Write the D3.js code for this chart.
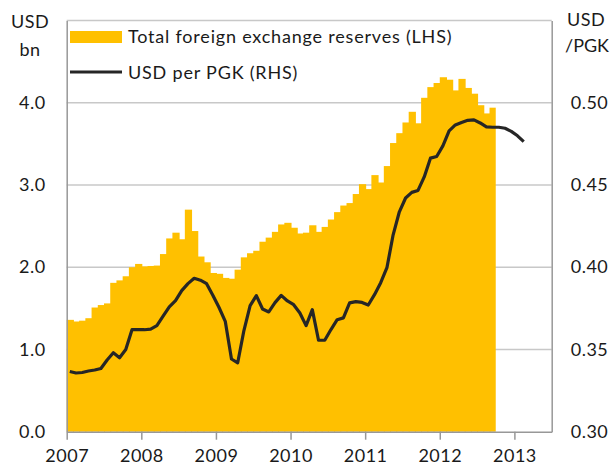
<!DOCTYPE html>
<html>
<head>
<meta charset="utf-8">
<script src="https://cdn.jsdelivr.net/npm/d3@7"></script>
<style>
  body { margin: 0; background: #fff; }
  svg { display: block; font-family: Lato, "Open Sans", sans-serif; }
  .lbl { font-size: 18px; fill: #1a1a1a; letter-spacing: 0.5px; }
  .leg { letter-spacing: 0.8px; }
</style>
</head>
<body>
<svg id="viz" width="611" height="468"></svg>
<script>
// monthly, Jan 2007 onwards
var yearLabels = ["2007", "2008", "2009", "2010", "2011", "2012", "2013"];
var nMonths = 78; // Jan 2007 - Jun 2013 on the axis

// Total foreign exchange reserves, USD bn (LHS), Jan 2007 - Sep 2012
var reserves = [
  1.36, 1.34, 1.35, 1.38, 1.51, 1.54, 1.56, 1.81, 1.84, 1.89, 2.00, 2.04,
  2.01, 2.015, 2.02, 2.16, 2.35, 2.42, 2.34, 2.70, 2.44, 2.13, 2.06, 1.93,
  1.92, 1.87, 1.86, 1.97, 2.12, 2.17, 2.20, 2.31, 2.36, 2.43, 2.52, 2.54,
  2.48, 2.41, 2.42, 2.51, 2.43, 2.49, 2.58, 2.67, 2.75, 2.78, 2.89, 3.01,
  2.95, 3.12, 3.03, 3.23, 3.51, 3.63, 3.76, 3.89, 3.75, 4.06, 4.19, 4.24,
  4.31, 4.28, 4.15, 4.29, 4.18, 4.11, 3.97, 3.87, 3.94
];

// USD per PGK (RHS), Jan 2007 - Feb 2013
var usdPerPgk = [
  0.3366, 0.3357, 0.3360, 0.3369, 0.3375, 0.3384, 0.3436, 0.3480, 0.3450, 0.3500, 0.3620, 0.3620,
  0.3620, 0.3624, 0.3645, 0.3702, 0.3759, 0.3797, 0.3858, 0.3900, 0.3933, 0.3921, 0.3900, 0.3830,
  0.3755, 0.3671, 0.3442, 0.3419, 0.3615, 0.3766, 0.3827, 0.3746, 0.3728, 0.3785, 0.3829, 0.3795,
  0.3772, 0.3722, 0.3645, 0.3742, 0.3556, 0.3556, 0.3621, 0.3681, 0.3692, 0.3783, 0.3791, 0.3786,
  0.3770, 0.3833, 0.3906, 0.3997, 0.4197, 0.4337, 0.4421, 0.4455, 0.4467, 0.4549, 0.4663, 0.4673,
  0.4738, 0.4829, 0.4865, 0.4880, 0.4893, 0.4896, 0.4877, 0.4853, 0.4851, 0.4851, 0.4845, 0.4826,
  0.4799, 0.4764
];

var leftTicks = [0, 1, 2, 3, 4];
var rightTicks = [0.30, 0.35, 0.40, 0.45, 0.50];
var gridVals = [1, 2, 3, 4, 5];

var plot = {left: 66.7, right: 551.7, top: 20.5, bottom: 431.7};
var gold = "#ffc000", axisGrey = "#989898", gridGrey = "#c8c8c8";

var svg = d3.select("#viz");

var x = d3.scaleLinear().domain([0, nMonths]).range([plot.left, plot.right]);
var yL = d3.scaleLinear().domain([0, 5]).range([plot.bottom, plot.top]);
var yR = d3.scaleLinear().domain([0.30, 0.55]).range([plot.bottom, plot.top]);

// gridlines (top one is the box edge)
svg.append("g").selectAll("line")
  .data(gridVals)
  .enter().append("line")
  .attr("x1", plot.left).attr("x2", plot.right)
  .attr("y1", function(d) { return yL(d); })
  .attr("y2", function(d) { return yL(d); })
  .style("stroke", gridGrey).style("stroke-width", "1.5px");

// reserves bars (overlap a touch so no seams show)
svg.append("g").selectAll("rect")
  .data(reserves)
  .enter().append("rect")
  .attr("x", function(d, i) { return x(i); })
  .attr("width", function(d, i) { return x(i + 1) - x(i) + (i < reserves.length - 1 ? 1 : 0); })
  .attr("y", function(d) { return yL(d); })
  .attr("height", function(d) { return yL(0) - yL(d); })
  .style("fill", gold);

// exchange rate line
var line = d3.line()
  .x(function(d, i) { return x(i + 0.5); })
  .y(function(d) { return yR(d); });
svg.append("path")
  .datum(usdPerPgk)
  .attr("d", line)
  .style("fill", "none")
  .style("stroke", "#262626")
  .style("stroke-width", "3.2px")
  .style("stroke-linejoin", "round");

// axes
var xAxis = d3.axisBottom(x)
  .tickValues(yearLabels.map(function(d, i) { return i * 12; }))
  .tickFormat(function(d, i) { return yearLabels[i]; })
  .tickSizeInner(8).tickSizeOuter(0).tickPadding(10);
var gx = svg.append("g")
  .attr("transform", "translate(0," + plot.bottom + ")")
  .call(xAxis);

var gl = svg.append("g")
  .attr("transform", "translate(" + plot.left + ",0)")
  .call(d3.axisLeft(yL).tickValues(leftTicks).tickFormat(d3.format(".1f"))
    .tickSize(0).tickPadding(21));

var gr = svg.append("g")
  .attr("transform", "translate(" + plot.right + ",0)")
  .call(d3.axisRight(yR).tickValues(rightTicks).tickFormat(d3.format(".2f"))
    .tickSize(0).tickPadding(19));

[gx, gl, gr].forEach(function(g) {
  g.select(".domain").style("stroke", axisGrey).style("stroke-width", "1.5px");
  g.selectAll(".tick line").style("stroke", axisGrey).style("stroke-width", "1.5px");
  g.selectAll("text").attr("class", "lbl");
  g.attr("font-family", null).attr("font-size", null);
});

// axis unit titles
svg.append("text").attr("class", "lbl").attr("x", 30).attr("y", 28)
  .attr("text-anchor", "middle").text("USD");
svg.append("text").attr("class", "lbl").attr("x", 30).attr("y", 56)
  .attr("text-anchor", "middle").text("bn");
svg.append("text").attr("class", "lbl").attr("x", 567).attr("y", 26).text("USD");
svg.append("text").attr("class", "lbl").attr("x", 565).attr("y", 52)
  .style("letter-spacing", "0px").text("/PGK");

// legend
var legend = svg.append("g");
legend.append("rect")
  .attr("x", 70).attr("y", 31).attr("width", 52).attr("height", 12)
  .style("fill", gold);
legend.append("text").attr("class", "lbl leg").attr("x", 128).attr("y", 43)
  .text("Total foreign exchange reserves (LHS)");
legend.append("line")
  .attr("x1", 70).attr("x2", 122).attr("y1", 72).attr("y2", 72)
  .style("stroke", "#262626").style("stroke-width", "3.2px");
legend.append("text").attr("class", "lbl leg").attr("x", 128).attr("y", 79)
  .text("USD per PGK (RHS)");
</script>
</body>
</html>
